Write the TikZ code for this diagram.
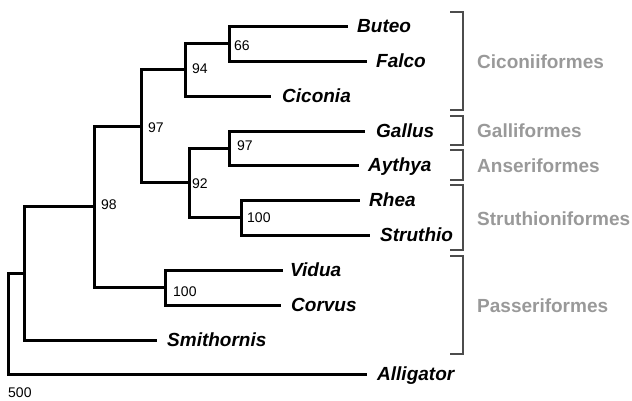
\documentclass[tikz,border=0pt]{standalone}
\usepackage{fontspec}
\setmainfont{Liberation Sans}
\begin{document}
\begin{tikzpicture}[x=1pt,y=-1pt,
  branch/.style={line width=3pt, line cap=rect},
  taxon/.style={anchor=west, inner sep=0pt, font=\fontsize{19}{19}\selectfont\bfseries\itshape, text height=13.6pt, text depth=0pt},
  boot/.style={anchor=west, inner sep=0pt, font=\fontsize{14}{14}\selectfont},
  order/.style={anchor=west, inner sep=0pt, font=\fontsize{19}{19}\selectfont\bfseries, text=black!40},
  brack/.style={draw=black!70, line width=1.5pt}]
\useasboundingbox (0,0) rectangle (632,400);
% internal nodes
\coordinate (n66) at (229,43.5);
\coordinate (n94) at (185,69.75);
\coordinate (n97g) at (229,148);
\coordinate (n100r) at (241,217.5);
\coordinate (n92) at (189,182.75);
\coordinate (n97) at (141,126.25);
\coordinate (n100v) at (165,287.5);
\coordinate (n98) at (94,206.9);
\coordinate (nS) at (24,273.4);
\coordinate (root) at (8,323.7);
% taxa
\node[taxon] (Buteo) at (357,26) {Buteo};
\node[taxon] (Falco) at (376,61) {Falco};
\node[taxon] (Ciconia) at (282,96) {Ciconia};
\node[taxon] (Gallus) at (376,131) {Gallus};
\node[taxon] (Aythya) at (368,165) {Aythya};
\node[taxon] (Rhea) at (369,200) {Rhea};
\node[taxon] (Struthio) at (380,235) {Struthio};
\node[taxon] (Vidua) at (290,270) {Vidua};
\node[taxon] (Corvus) at (291,305) {Corvus};
\node[taxon] (Smithornis) at (167,340) {Smithornis};
\node[taxon] (Alligator) at (377,374) {Alligator};
% branches
\draw[branch] (n66) |- ([xshift=-11pt]Buteo.west);
\draw[branch] (n66) |- ([xshift=-11pt]Falco.west);
\draw[branch] (n94) |- (n66);
\draw[branch] (n94) |- ([xshift=-13pt]Ciconia.west);
\draw[branch] (n97g) |- ([xshift=-13pt]Gallus.west);
\draw[branch] (n97g) |- ([xshift=-11pt]Aythya.west);
\draw[branch] (n100r) |- ([xshift=-11pt]Rhea.west);
\draw[branch] (n100r) |- ([xshift=-12pt]Struthio.west);
\draw[branch] (n92) |- (n97g);
\draw[branch] (n92) |- (n100r);
\draw[branch] (n97) |- (n94);
\draw[branch] (n97) |- (n92);
\draw[branch] (n100v) |- ([xshift=-9pt]Vidua.west);
\draw[branch] (n100v) |- ([xshift=-12pt]Corvus.west);
\draw[branch] (n98) |- (n97);
\draw[branch] (n98) |- (n100v);
\draw[branch] (nS) |- (n98);
\draw[branch] (nS) |- ([xshift=-12pt]Smithornis.west);
\draw[branch] (root) |- (nS);
\draw[branch] (root) |- ([xshift=-12pt]Alligator.west);
% bootstrap values
\node[boot] (b66) at (234,46) {66};
\node[boot] (b94) at (192,69) {94};
\node[boot] (b97) at (148,128) {97};
\node[boot] (b97g) at (237,146) {97};
\node[boot] (b92) at (192,184) {92};
\node[boot] (b100r) at (247,218) {100};
\node[boot] (b98) at (101,205) {98};
\node[boot] (b100v) at (173,292) {100};
\node[boot] (scale) at (8,393) {500};
% brackets
\draw[brack] (450,12) -- (463,12) -- (463,110) -- (450,110);
\draw[brack] (450,116) -- (463,116) -- (463,145) -- (450,145);
\draw[brack] (450,150) -- (463,150) -- (463,180) -- (450,180);
\draw[brack] (450,185) -- (463,185) -- (463,250) -- (450,250);
\draw[brack] (450,256) -- (463,256) -- (463,354) -- (450,354);
% orders
\node[order] (o1) at (477,62) {Ciconiiformes};
\node[order] (o2) at (477,131) {Galliformes};
\node[order] (o3) at (477,166) {Anseriformes};
\node[order] (o4) at (477,219) {Struthioniformes};
\node[order] (o5) at (477,306) {Passeriformes};
\end{tikzpicture}
\end{document}
